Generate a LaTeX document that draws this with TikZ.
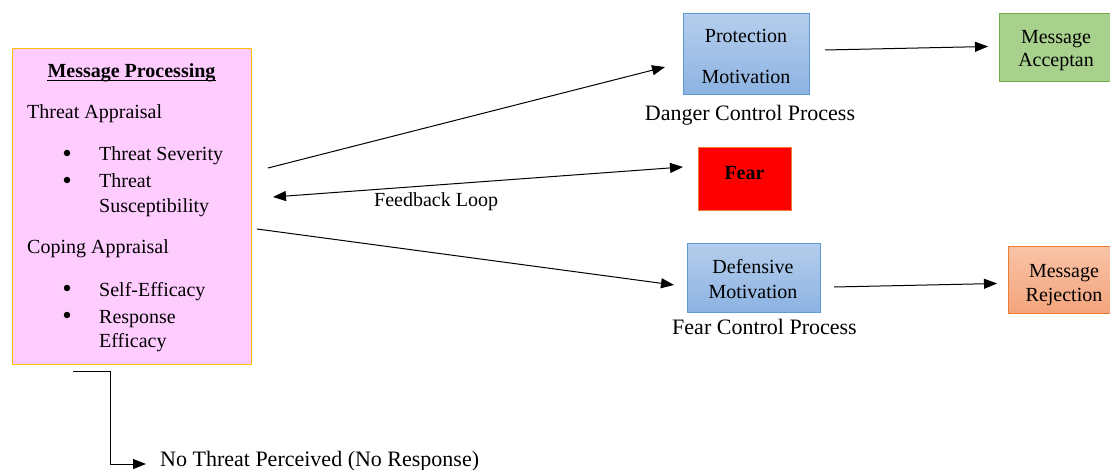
\documentclass[tikz,border=0pt]{standalone}
\usepackage{fontspec}
\setmainfont{Liberation Serif}
\usetikzlibrary{arrows.meta}
\definecolor{pinkfill}{HTML}{FFCCFF}
\definecolor{goldline}{HTML}{FFC000}
\definecolor{bluetop}{HTML}{B4CDEC}
\definecolor{bluebot}{HTML}{8DB3E2}
\definecolor{blueline}{HTML}{5B9BD5}
\definecolor{greenfill}{HTML}{A9D18E}
\definecolor{greenline}{HTML}{70AD47}
\definecolor{orangeline}{HTML}{ED7D31}
\definecolor{saltop}{HTML}{F8C3A6}
\definecolor{salbot}{HTML}{F4A47D}
\begin{document}
\begin{tikzpicture}[x=1pt,y=-1pt,
  boxtext/.style={font=\fontsize{20pt}{24pt}\selectfont, anchor=base, inner sep=0pt, yshift=-1.5pt},
  lbltext/.style={font=\fontsize{22pt}{26pt}\selectfont, anchor=base, inner sep=0pt, yshift=-1.5pt},
  wbox/.style={rectangle, inner sep=0pt, line width=1pt},
  bluebox/.style={wbox, draw=blueline, top color=bluetop, bottom color=bluebot},
  bulletdot/.style={circle, fill=black, inner sep=0pt, minimum size=6.5pt},
  conn/.style={line width=1pt, -{Triangle[length=13pt,width=10pt]}},
  dconn/.style={line width=1pt, {Triangle[length=13pt,width=10pt]}-{Triangle[length=13pt,width=10pt]}}
]
\useasboundingbox (0,0) rectangle (1110,470);
\fill[white] (0,0) rectangle (1110,470);

% Message processing box
\node[wbox, draw=goldline, fill=pinkfill, minimum width=239pt, minimum height=315pt] (mp) at (131.5,206.5) {};
\node[boxtext, font=\fontsize{20pt}{24pt}\selectfont\bfseries] (mpt) at (131.5,76) {Message Processing};
\draw[line width=1.2pt] ([yshift=-3pt]mpt.base west) -- ([yshift=-3pt]mpt.base east);
\node[boxtext, anchor=base west] (ta) at (27,117) {Threat Appraisal};
\node[bulletdot] (b1) at (67,153) {};
\node[boxtext, anchor=base west] (ts) at (99,159) {Threat Severity};
\node[bulletdot] (b2) at (67,180) {};
\node[boxtext, anchor=base west] (tt) at (99,186) {Threat};
\node[boxtext, anchor=base west] (tsu) at (99,211) {Susceptibility};
\node[boxtext, anchor=base west] (ca) at (27,252) {Coping Appraisal};
\node[bulletdot] (b3) at (67,288) {};
\node[boxtext, anchor=base west] (se) at (99,295) {Self-Efficacy};
\node[bulletdot] (b4) at (67,315) {};
\node[boxtext, anchor=base west] (re) at (99,322) {Response};
\node[boxtext, anchor=base west] (ef) at (99,346) {Efficacy};

% Protection motivation
\node[bluebox, minimum width=126pt, minimum height=81pt] (pm) at (746,54.5) {};
\node[boxtext] (pmt1) at (746,41) {Protection};
\node[boxtext] (pmt2) at (746,82) {Motivation};
\node[lbltext] (dcp) at (750,119) {Danger Control Process};

% Message acceptance
\node[wbox, draw=greenline, fill=greenfill, minimum width=114pt, minimum height=68pt] (ma) at (1056,48) {};
\node[boxtext] (mat1) at (1056,42) {Message};
\node[boxtext] (mat2) at (1056,65) {Acceptan};

% Fear
\node[wbox, draw=orangeline, fill=red, minimum width=93pt, minimum height=63pt] (fear) at (744.5,179.5) {};
\node[boxtext, font=\fontsize{20pt}{24pt}\selectfont\bfseries] (feart) at (744.5,178) {Fear};

% Defensive motivation
\node[bluebox, minimum width=133pt, minimum height=68pt] (dm) at (753.5,278) {};
\node[boxtext] (dmt1) at (753,272) {Defensive};
\node[boxtext] (dmt2) at (753,297) {Motivation};
\node[lbltext] (fcp) at (764.5,333) {Fear Control Process};

% Message rejection
\node[wbox, draw=orangeline, top color=saltop, bottom color=salbot, minimum width=106pt, minimum height=66pt] (mr) at (1061,280) {};
\node[boxtext] (mrt1) at (1064,276) {Message};
\node[boxtext] (mrt2) at (1064,300) {Rejection};

% Labels
\node[boxtext, anchor=base west] (fb) at (374,205) {Feedback Loop};
\node[lbltext, anchor=base west] (nt) at (160,465) {No Threat Perceived (No Response)};

% connector endpoints
\coordinate (s1) at (268,168);
\coordinate (e1) at (665,67);
\coordinate (s2) at (825,50);
\coordinate (e2) at (988,46.5);
\coordinate (s3) at (273,197);
\coordinate (e3) at (683,167);
\coordinate (s4) at (257,229);
\coordinate (e4) at (674,285);
\coordinate (s5) at (834,287);
\coordinate (e5) at (997,283.5);
\coordinate (s6) at (73,371);
\coordinate (k6) at (110,371);
\coordinate (e6) at (146,464);

\draw[conn] (s1) -- (e1);
\draw[conn] (s2) -- (e2);
\draw[dconn] (s3) -- (e3);
\draw[conn] (s4) -- (e4);
\draw[conn] (s5) -- (e5);
\draw[conn] (s6) -- (k6) |- (e6);
\end{tikzpicture}
\end{document}
